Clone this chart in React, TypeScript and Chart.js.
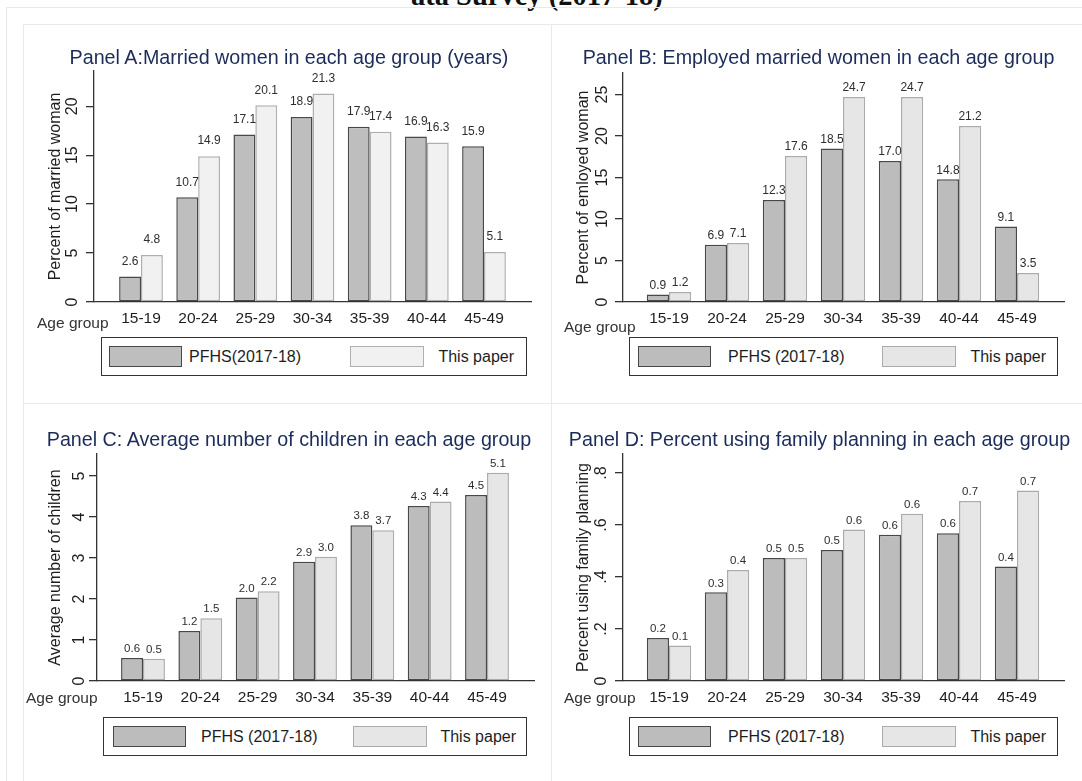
import React, { useEffect, useRef } from 'react';
import { Chart, registerables } from 'chart.js';

Chart.register(...registerables);

const FONT = "'Liberation Sans', Arial, Helvetica, sans-serif";
Chart.defaults.font.family = FONT;

// ---------------- data ----------------
const ageGroups = ['15-19', '20-24', '25-29', '30-34', '35-39', '40-44', '45-49'];
const seriesNamesA = ['PFHS(2017-18)', 'This paper'];
const seriesNames = ['PFHS (2017-18)', 'This paper'];

const marriedPFHS = [2.6, 10.7, 17.1, 18.9, 17.9, 16.9, 15.9];
const marriedPaper = [4.8, 14.9, 20.1, 21.3, 17.4, 16.3, 5.1];

const employedPFHS = [0.9, 6.9, 12.3, 18.5, 17.0, 14.8, 9.1];
const employedPaper = [1.2, 7.1, 17.6, 24.7, 24.7, 21.2, 3.5];

const childrenPFHS = [0.56, 1.22, 2.04, 2.91, 3.8, 4.27, 4.54];
const childrenPaper = [0.54, 1.53, 2.19, 3.03, 3.68, 4.38, 5.08];

const familyPlanningPFHS = [0.165, 0.341, 0.473, 0.504, 0.562, 0.568, 0.44];
const familyPlanningPaper = [0.137, 0.427, 0.473, 0.583, 0.643, 0.692, 0.733];

const yTicksA = [0, 5, 10, 15, 20];
const yTickLabelsA = ['0', '5', '10', '15', '20'];
const yTicksB = [0, 5, 10, 15, 20, 25];
const yTickLabelsB = ['0', '5', '10', '15', '20', '25'];
const yTicksC = [0, 1, 2, 3, 4, 5];
const yTickLabelsC = ['0', '1', '2', '3', '4', '5'];
const yTicksD = [0, 0.2, 0.4, 0.6, 0.8];
const yTickLabelsD = ['0', '.2', '.4', '.6', '.8'];

const yMaxA = 23.6;
const yMaxB = 27.6;
const yMaxC = 5.54;
const yMaxD = 0.873;

// ---------------- styles ----------------
const axisColor = '#333333';
const textColor = '#1e1e1e';
const titleColor = '#1c2b5a';
const frameColor = '#e5eaee';

const colorsA = { darkFill: '#bebebe', darkBorder: '#484848', lightFill: '#f1f1f1', lightBorder: '#afafaf' };
const colorsB = { darkFill: '#bcbcbc', darkBorder: '#484848', lightFill: '#e6e6e6', lightBorder: '#ababab' };

type Layout = {
  axisX: number; axisY: number; axisTop: number; axisRight: number;
  firstCenter: number; lastCenter: number;
  canvasLeft: number; canvasRight: number;
  yTickPad: number; yTitleCenter: number; xTickPad: number;
  labelOffset: number; labelSize: number;
  title: { cx: number; cy: number };
  ageGroup: { left: number; cy: number };
  legend: { left: number; top: number; width: number; sw1: number; sw2: number; text1: number; text2Right: number };
};

const layoutA: Layout = {
  axisX: 94, axisY: 302, axisTop: 71, axisRight: 531, firstCenter: 141, lastCenter: 484,
  canvasLeft: 24, canvasRight: 551, yTickPad: 4.2, yTitleCenter: 56, xTickPad: 7.2,
  labelOffset: 15, labelSize: 12,
  title: { cx: 289, cy: 57 }, ageGroup: { left: 37, cy: 323 },
  legend: { left: 101, top: 337, width: 425.5, sw1: 8, sw2: 249, text1: 88, text2Right: 12.5 },
};
const layoutB: Layout = {
  axisX: 623, axisY: 302, axisTop: 73, axisRight: 1064, firstCenter: 669, lastCenter: 1017,
  canvasLeft: 552, canvasRight: 1082, yTickPad: 3.2, yTitleCenter: 584, xTickPad: 7.2,
  labelOffset: 9, labelSize: 12,
  title: { cx: 818.5, cy: 57 }, ageGroup: { left: 564, cy: 327 },
  legend: { left: 629, top: 337, width: 429, sw1: 9, sw2: 253, text1: 99, text2Right: 12 },
};
const layoutC: Layout = {
  axisX: 97, axisY: 681, axisTop: 454, axisRight: 534, firstCenter: 143, lastCenter: 487,
  canvasLeft: 24, canvasRight: 551, yTickPad: 4.5, yTitleCenter: 56, xTickPad: 7.7,
  labelOffset: 9, labelSize: 11.5,
  title: { cx: 289, cy: 439 }, ageGroup: { left: 26, cy: 698 },
  legend: { left: 103, top: 717, width: 424, sw1: 9.5, sw2: 250, text1: 98, text2Right: 11 },
};
const layoutD: Layout = {
  axisX: 623, axisY: 681, axisTop: 454, axisRight: 1064, firstCenter: 669, lastCenter: 1017,
  canvasLeft: 552, canvasRight: 1082, yTickPad: 6.3, yTitleCenter: 584, xTickPad: 7.7,
  labelOffset: 9, labelSize: 11.5,
  title: { cx: 819.5, cy: 439 }, ageGroup: { left: 564, cy: 698 },
  legend: { left: 629, top: 717, width: 429, sw1: 9, sw2: 253, text1: 99, text2Right: 12 },
};

type PanelDef = {
  key: string; title: string; yTitle: string; series: string[];
  first: number[]; second: number[]; yTicks: number[]; yTickLabels: string[]; yMax: number;
  colors: typeof colorsA; layout: Layout;
};

const panels: PanelDef[] = [
  { key: 'A', title: 'Panel A:Married women in each age group (years)', yTitle: 'Percent of married woman', series: seriesNamesA, first: marriedPFHS, second: marriedPaper, yTicks: yTicksA, yTickLabels: yTickLabelsA, yMax: yMaxA, colors: colorsA, layout: layoutA },
  { key: 'B', title: 'Panel B: Employed married women in each age group', yTitle: 'Percent of emloyed woman', series: seriesNames, first: employedPFHS, second: employedPaper, yTicks: yTicksB, yTickLabels: yTickLabelsB, yMax: yMaxB, colors: colorsB, layout: layoutB },
  { key: 'C', title: 'Panel C: Average number of children in each age group', yTitle: 'Average number of children', series: seriesNames, first: childrenPFHS, second: childrenPaper, yTicks: yTicksC, yTickLabels: yTickLabelsC, yMax: yMaxC, colors: colorsB, layout: layoutC },
  { key: 'D', title: 'Panel D: Percent using family planning in each age group', yTitle: 'Percent using family planning', series: seriesNames, first: familyPlanningPFHS, second: familyPlanningPaper, yTicks: yTicksD, yTickLabels: yTickLabelsD, yMax: yMaxD, colors: colorsB, layout: layoutD },
];

const valueLabels = {
  id: 'valueLabels',
  afterDatasetsDraw(chart: any, _args: any, opts: any) {
    const { ctx } = chart;
    ctx.save();
    ctx.font = `${opts.size}px ${FONT}`;
    ctx.fillStyle = '#2e2e2e';
    ctx.textAlign = 'center';
    ctx.textBaseline = 'middle';
    chart.data.datasets.forEach((ds: any, di: number) => {
      const meta = chart.getDatasetMeta(di);
      meta.data.forEach((el: any, i: number) => {
        const v = ds.data[i].y as number;
        ctx.fillText(v.toFixed(1), el.x, el.y - opts.offset);
      });
    });
    ctx.restore();
  },
};

const TOP_GAP = 22;
const X_SCALE_H = 30;
const BOTTOM_PAD = 10;

function Panel({ p }: { p: PanelDef }) {
  const ref = useRef<HTMLCanvasElement>(null);
  const L = p.layout;
  const cy = L.axisTop - TOP_GAP;
  const cw = L.canvasRight - L.canvasLeft;
  const ch = L.axisY + X_SCALE_H + BOTTOM_PAD - cy;

  useEffect(() => {
    if (!ref.current) return;
    const n = ageGroups.length;
    const spacing = (L.lastCenter - L.firstCenter) / (n - 1);
    const xMin = -(L.firstCenter - L.axisX) / spacing;
    const xMax = n - 1 + (L.axisRight - L.lastCenter) / spacing;
    const yWidth = L.axisX - L.canvasLeft;
    const titleFont = 16;
    const yTitlePad = L.yTitleCenter - L.canvasLeft - (titleFont * 1.2) / 2;

    const chart = new Chart(ref.current, {
      type: 'bar',
      data: {
        datasets: [
          {
            label: p.series[0],
            data: ageGroups.map((_, i) => ({ x: i, y: p.first[i] })),
            backgroundColor: p.colors.darkFill,
            borderColor: p.colors.darkBorder,
            borderWidth: 1.5,
            borderSkipped: false,
            categoryPercentage: 0.765,
            barPercentage: 1,
          },
          {
            label: p.series[1],
            data: ageGroups.map((_, i) => ({ x: i, y: p.second[i] })),
            backgroundColor: p.colors.lightFill,
            borderColor: p.colors.lightBorder,
            borderWidth: 1.5,
            borderSkipped: false,
            categoryPercentage: 0.765,
            barPercentage: 1,
          },
        ],
      } as any,
      options: {
        animation: false,
        responsive: false,
        maintainAspectRatio: false,
        layout: { padding: { left: 0, top: TOP_GAP, right: L.canvasRight - L.axisRight, bottom: BOTTOM_PAD } },
        plugins: {
          legend: { display: false },
          tooltip: { enabled: false },
          title: { display: false },
          valueLabels: { size: L.labelSize, offset: L.labelOffset },
        } as any,
        scales: {
          x: {
            type: 'linear',
            min: xMin,
            max: xMax,
            offset: false,
            afterBuildTicks: (s: any) => { s.ticks = ageGroups.map((_, i) => ({ value: i })); },
            afterFit: (s: any) => { s.height = X_SCALE_H; },
            grid: { display: false, drawTicks: false, offset: false },
            border: { display: true, color: axisColor, width: 1.3 },
            ticks: {
              autoSkip: false, minRotation: 0, maxRotation: 0, padding: L.xTickPad,
              color: textColor, font: { size: 15.5 },
              callback: (v: any) => ageGroups[Math.round(Number(v))] ?? '',
            },
          },
          y: {
            type: 'linear',
            min: 0,
            max: p.yMax,
            afterBuildTicks: (s: any) => { s.ticks = p.yTicks.map((v) => ({ value: v })); },
            afterFit: (s: any) => { s.width = yWidth; },
            grid: { display: true, drawOnChartArea: false, drawTicks: true, tickLength: 8, color: axisColor, lineWidth: 1.3 },
            border: { display: true, color: axisColor, width: 1.3 },
            ticks: {
              autoSkip: false, minRotation: 90, maxRotation: 90, crossAlign: 'center', padding: L.yTickPad,
              color: textColor, font: { size: 16 },
              callback: (_v: any, i: number) => p.yTickLabels[i],
            },
            title: { display: true, text: p.yTitle, color: textColor, font: { size: titleFont }, padding: { top: yTitlePad, bottom: 0 } },
          },
        } as any,
      },
      plugins: [valueLabels as any],
    });
    return () => chart.destroy();
  }, [p]);

  const lg = L.legend;
  const swTop = 9;
  const swH = 21;
  const lgH = 39;
  return (
    <>
      <canvas
        ref={ref}
        width={cw}
        height={ch}
        style={{ position: 'absolute', left: L.canvasLeft, top: cy, width: cw, height: ch }}
      />
      <div style={{ position: 'absolute', left: L.title.cx - 300, top: L.title.cy - 12, width: 600, height: 24, lineHeight: '24px', textAlign: 'center', fontSize: 19.7, color: titleColor, whiteSpace: 'nowrap' }}>
        {p.title}
      </div>
      <div style={{ position: 'absolute', left: L.ageGroup.left, top: L.ageGroup.cy - 10, height: 20, lineHeight: '20px', fontSize: 15.5, color: '#333', whiteSpace: 'nowrap' }}>
        Age group
      </div>
      <div style={{ position: 'absolute', left: lg.left, top: lg.top, width: lg.width, height: lgH, border: '1.3px solid #333', boxSizing: 'border-box', background: '#fff' }}>
        <div style={{ position: 'absolute', left: lg.sw1 - 1, top: swTop - 1, width: 73, height: swH, background: p.colors.darkFill, border: `1.5px solid ${p.colors.darkBorder}`, boxSizing: 'border-box' }} />
        <div style={{ position: 'absolute', left: lg.text1 - 1, top: swTop - 1, height: swH, lineHeight: `${swH}px`, fontSize: 16, color: textColor, whiteSpace: 'nowrap' }}>{p.series[0]}</div>
        <div style={{ position: 'absolute', left: lg.sw2 - 1, top: swTop - 1, width: 74, height: swH, background: p.colors.lightFill, border: `1.5px solid ${p.colors.lightBorder}`, boxSizing: 'border-box' }} />
        <div style={{ position: 'absolute', right: lg.text2Right - 1, top: swTop - 1, height: swH, lineHeight: `${swH}px`, fontSize: 16, color: textColor, whiteSpace: 'nowrap' }}>{p.series[1]}</div>
      </div>
    </>
  );
}

export default function App() {
  const line = (s: React.CSSProperties) => <div style={{ position: 'absolute', background: frameColor, ...s }} />;
  return (
    <div style={{ position: 'absolute', left: 0, top: 0, width: 1082, height: 781, overflow: 'hidden', background: '#fff', fontFamily: FONT }}>
      <div style={{ position: 'absolute', left: 411, top: -18.5, fontFamily: "'Liberation Serif', 'Times New Roman', serif", fontWeight: 'bold', fontSize: 28.5, lineHeight: '28px', whiteSpace: 'nowrap', color: '#111' }}>
        ata Survey (2017-18)
      </div>
      {line({ left: 6, top: 7, right: 0, height: 1 })}
      {line({ left: 6, top: 7, width: 1, bottom: 0 })}
      {line({ left: 23, top: 24, right: 0, height: 1 })}
      {line({ left: 23, top: 24, width: 1, bottom: 0 })}
      {line({ left: 551, top: 24, width: 1, bottom: 0 })}
      {line({ left: 23, top: 403, right: 0, height: 1 })}
      {panels.map((p) => <Panel key={p.key} p={p} />)}
    </div>
  );
}
